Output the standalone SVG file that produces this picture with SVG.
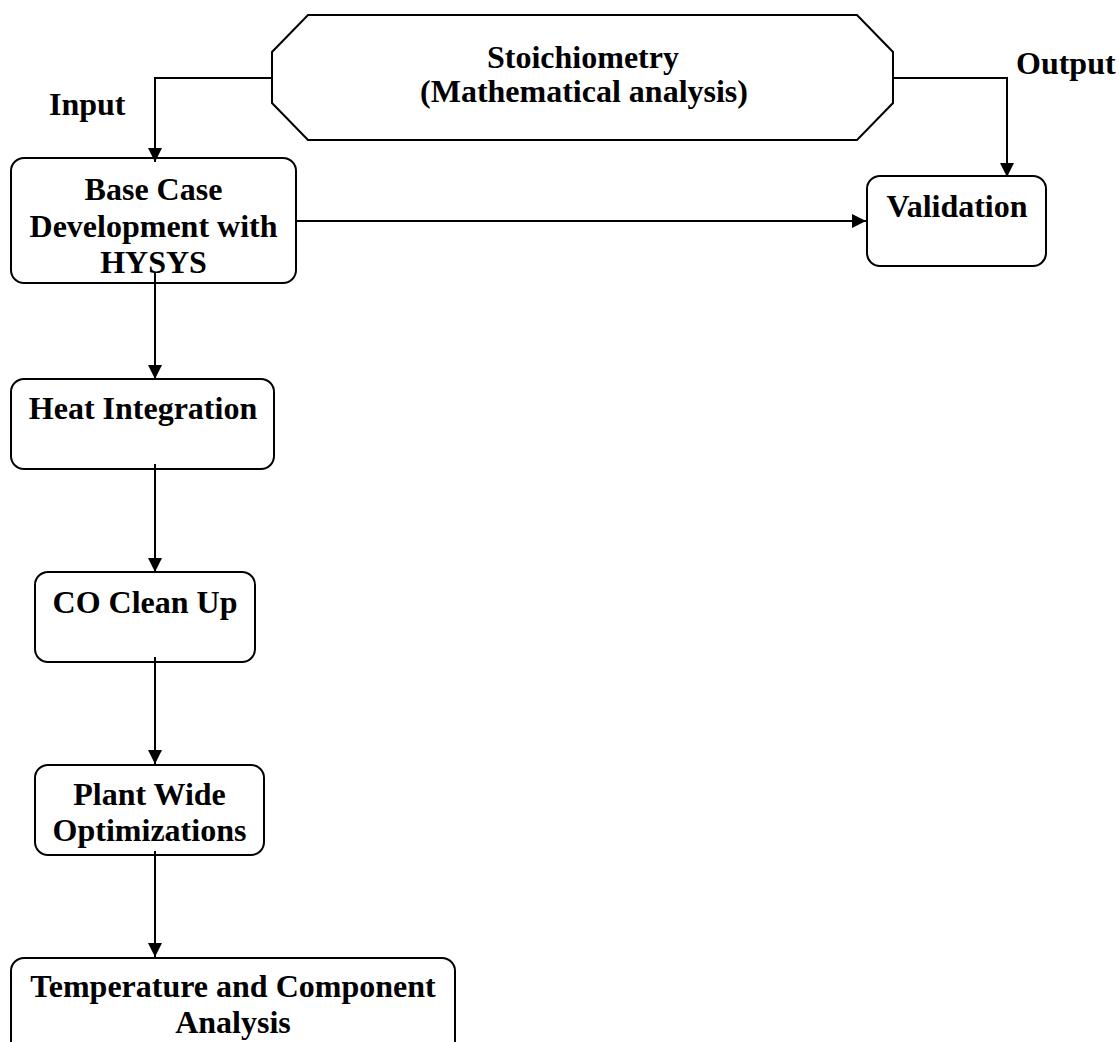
<svg xmlns="http://www.w3.org/2000/svg" width="1119" height="1042" viewBox="0 0 1119 1042">
<style>
.box{fill:#fff;stroke:#000;stroke-width:2}
.t{font-family:"Liberation Serif","Times New Roman",serif;font-weight:bold;font-size:32px;fill:#000;text-anchor:middle}
.lbl{font-family:"Liberation Serif","Times New Roman",serif;font-weight:bold;font-size:32px;fill:#000}
.c{fill:none;stroke:#000;stroke-width:2}
</style>
<defs>
<marker id="ah" markerUnits="userSpaceOnUse" markerWidth="15" markerHeight="15" refX="14" refY="7" orient="auto">
<path d="M0,0 L14,7 L0,14 z" fill="#000"/>
</marker>
</defs>
<rect width="1119" height="1042" fill="#fff"/>
<g id="stoichiometry">
<polygon class="box" points="308,15 857,15 893,52 893,103 857,140 308,140 272,103 272,52"/>
<text class="t" x="583" y="68">Stoichiometry</text>
<text class="t" x="584" y="102">(Mathematical analysis)</text>
</g>
<g id="base-case">
<rect class="box" x="11" y="158" width="285" height="125" rx="13"/>
<text class="t" x="153.5" y="200">Base Case</text>
<text class="t" x="153.5" y="237">Development with</text>
<text class="t" x="153.5" y="273">HYSYS</text>
</g>
<g id="validation">
<rect class="box" x="867" y="176" width="179" height="90" rx="13"/>
<text class="t" x="957" y="217">Validation</text>
</g>
<g id="heat-integration">
<rect class="box" x="11" y="379" width="263" height="90" rx="13"/>
<text class="t" x="143" y="419">Heat Integration</text>
</g>
<g id="co-clean-up">
<rect class="box" x="35" y="572" width="220" height="90" rx="13"/>
<text class="t" x="145" y="613">CO Clean Up</text>
</g>
<g id="plant-wide">
<rect class="box" x="35" y="765" width="229" height="90" rx="13"/>
<text class="t" x="149.5" y="805">Plant Wide</text>
<text class="t" x="149.5" y="841">Optimizations</text>
</g>
<g id="temperature">
<rect class="box" x="11" y="958" width="444" height="120" rx="13"/>
<text class="t" x="233" y="997">Temperature and Component</text>
<text class="t" x="233" y="1033">Analysis</text>
</g>
<g id="labels">
<text class="lbl" x="49" y="115">Input</text>
<text class="lbl" x="1016" y="74">Output</text>
</g>
<g id="connectors">
<polyline class="c" points="272,78 155,78 155,162" marker-end="url(#ah)"/>
<polyline class="c" points="893,78 1007,78 1007,177" marker-end="url(#ah)"/>
<line class="c" x1="296" y1="221" x2="866" y2="221" marker-end="url(#ah)"/>
<line class="c" x1="155" y1="273" x2="155" y2="379" marker-end="url(#ah)"/>
<line class="c" x1="155" y1="464" x2="155" y2="572" marker-end="url(#ah)"/>
<line class="c" x1="155" y1="657" x2="155" y2="764" marker-end="url(#ah)"/>
<line class="c" x1="155" y1="851" x2="155" y2="957" marker-end="url(#ah)"/>
</g>
</svg>
